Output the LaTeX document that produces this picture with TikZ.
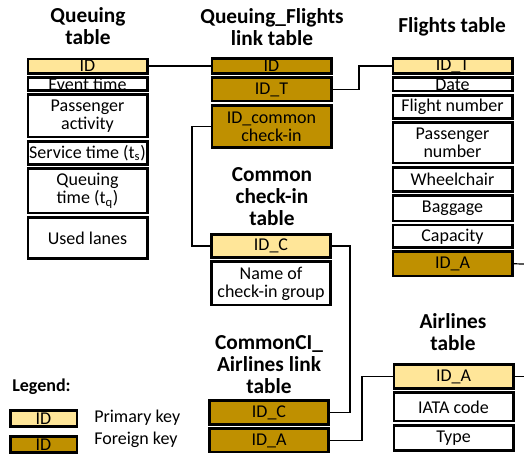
\documentclass[tikz,border=0pt]{standalone}
\usepackage{fontspec}
\setmainfont{Carlito}
\usepackage{tikz}
\usetikzlibrary{positioning}
\definecolor{pkgold}{HTML}{FFE699}
\definecolor{fkgold}{HTML}{BF9000}
\tikzstyle{row} = [rectangle, draw=black, line width=2pt, minimum width=89.5pt,
    inner sep=0pt, align=center, font=\fontsize{13.5}{13.5}\selectfont]
\tikzstyle{field} = [row, fill=white]
\tikzstyle{pk} = [row, fill=pkgold]
\tikzstyle{fk} = [row, fill=fkgold]
\tikzstyle{title} = [align=center, font=\fontsize{16}{16.5}\selectfont\bfseries]
\tikzstyle{legendtext} = [anchor=west, inner sep=0pt, font=\fontsize{13.5}{16}\selectfont]
\tikzstyle{link} = [line width=0.9pt]

\begin{document}
\begin{tikzpicture}[x=0.75pt, y=-0.75pt, node distance=1.1pt]
\useasboundingbox (0,0) rectangle (524,455);

% Queuing table
\node (Q_title) [title] at (88,26) {Queuing\\table};
\node (Q_ID) [pk, minimum height=10.75pt] at (87.5,66) {ID};
\node (Q_event) [field, minimum height=10pt, below=of Q_ID] {Event time};
\node (Q_act) [field, minimum height=31.75pt, below=of Q_event] {Passenger\\activity};
\node (Q_serv) [field, minimum height=17.5pt, below=of Q_act] {Service time (t\textsubscript{s})};
\node (Q_queue) [field, minimum height=33.25pt, below=of Q_serv] {Queuing\\time (t\textsubscript{q})};
\node (Q_lanes) [field, minimum height=31pt, below=of Q_queue] {Used lanes};

% Queuing_Flights link table
\node (QF_title) [title] at (272,27) {Queuing\_Flights\\link table};
\node (QF_ID) [fk, minimum height=11.5pt] at (271.5,66) {ID};
\node (QF_IDT) [fk, minimum height=17.5pt, below=of QF_ID] {ID\_T};
\node (QF_CC) [fk, minimum height=31.75pt, below=of QF_IDT] {ID\_common\\check-in};

% Flights table
\node (F_title) [title] at (452,27) {Flights table};
\node (F_IDT) [pk, minimum height=11.5pt] at (452.5,66) {ID\_T};
\node (F_date) [field, minimum height=10pt, below=of F_IDT] {Date};
\node (F_num) [field, minimum height=17.5pt, below=of F_date] {Flight number};
\node (F_pass) [field, minimum height=30.25pt, below=of F_num] {Passenger\\number};
\node (F_wheel) [field, minimum height=18.25pt, below=of F_pass] {Wheelchair};
\node (F_bag) [field, minimum height=19pt, below=of F_wheel] {Baggage};
\node (F_cap) [field, minimum height=16.75pt, below=of F_bag] {Capacity};
\node (F_IDA) [fk, minimum height=18.25pt, below=of F_cap] {ID\_A};

% Common check-in table
\node (C_title) [title] at (272,197) {Common\\check-in\\table};
\node (C_IDC) [pk, minimum height=17.5pt] at (271,246) {ID\_C};
\node (C_name) [field, minimum height=32.5pt, below=of C_IDC] {Name of\\check-in group};

% CommonCI_Airlines link table
\node (CA_title) [title] at (269,365) {CommonCI\_\\Airlines link\\table};
\node (CA_IDC) [fk, minimum height=18.25pt] at (269,412.5) {ID\_C};
\node (CA_IDA) [fk, minimum height=17.5pt, below=of CA_IDC] {ID\_A};

% Airlines table
\node (A_title) [title] at (453,332) {Airlines\\table};
\node (A_IDA) [pk, minimum height=18.25pt] at (453.5,376.5) {ID\_A};
\node (A_iata) [field, minimum height=21.25pt, below=of A_IDA] {IATA code};
\node (A_type) [field, minimum height=19pt, below=of A_iata] {Type};

% Legend
\node (L_title) [legendtext, font=\fontsize{13.5}{16}\selectfont\bfseries] at (12,387) {Legend:};
\node (L_pk) [pk, minimum width=50pt, minimum height=12.25pt] at (43.5,418.5) {ID};
\node (L_fk) [fk, minimum width=50pt, minimum height=12.25pt] at (43.5,444.5) {ID};
\node (L_pktext) [legendtext] at (94,418) {Primary key};
\node (L_fktext) [legendtext] at (94,440) {Foreign key};

\coordinate (bl1) at (359,66);
\coordinate (bl2) at (192,246);
\coordinate (bl3) at (350,246);
\coordinate (bl4) at (362,376.5);
\coordinate (out1) at (524,264);
\coordinate (out2) at (524,376.5);

\draw [link] (Q_ID) -- (QF_ID);
\draw [link] (QF_IDT.east) -| (bl1) -- (F_IDT.west);
\draw [link] (QF_CC.west) -| (bl2) -- (C_IDC.west);
\draw [link] (C_IDC.east) -- (bl3) |- (CA_IDC.east);
\draw [link] (CA_IDA.east) -| (bl4) -- (A_IDA.west);
\draw [link] (F_IDA.east) -- (out1);
\draw [link] (A_IDA.east) -- (out2);

\end{tikzpicture}
\end{document}
